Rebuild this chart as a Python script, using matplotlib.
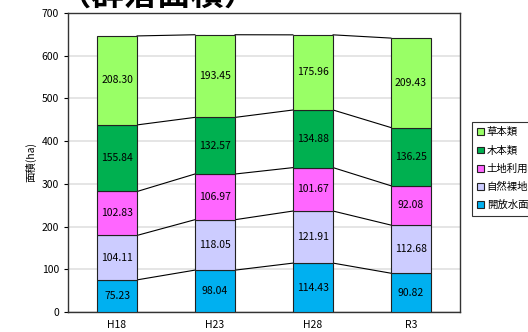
import matplotlib
matplotlib.use("Agg")
import matplotlib.pyplot as plt
import numpy as np

plt.rcParams['font.family'] = ['Noto Sans CJK JP', 'DejaVu Sans']

# data
categories = ['H18', 'H23', 'H28', 'R3']
series_names = ['開放水面', '自然裸地', '土地利用地', '木本類', '草本類']
open_water = [75.23, 98.04, 114.43, 90.82]
bare_land = [104.11, 118.05, 121.91, 112.68]
land_use = [102.83, 106.97, 101.67, 92.08]
woody = [155.84, 132.57, 134.88, 136.25]
herbs = [208.30, 193.45, 175.96, 209.43]
colors = ['#00B0F0', '#CCCCFF', '#FF66FF', '#00B050', '#99FF66']

values = [open_water, bare_land, land_use, woody, herbs]

fig = plt.figure(figsize=(5.28, 3.32), dpi=100)
ax = fig.add_axes([68 / 528, 20 / 332, 392 / 528, 299 / 332])

x = np.arange(len(categories))
w = 0.41
bottom = np.zeros(len(categories))
handles = []
for name, vals, c in zip(series_names, values, colors):
    vals = np.array(vals)
    b = ax.bar(x, vals, w, bottom=bottom, color=c, edgecolor='#222222',
               linewidth=0.8, label=name, zorder=3)
    handles.append(b)
    for xi, v, bt in zip(x, vals, bottom):
        ax.text(xi, bt + v / 2, f'{v:.2f}', ha='center', va='center',
                fontsize=7.5, zorder=4)
    bottom = bottom + vals
    # series lines between bars
    for i in range(len(categories) - 1):
        ax.plot([x[i] + w / 2, x[i + 1] - w / 2], [bottom[i], bottom[i + 1]],
                color='black', linewidth=0.8, zorder=2)

ax.set_xlim(-0.5, 3.5)
ax.set_ylim(0, 700)
ax.set_yticks(range(0, 701, 100))
ax.set_xticks(x)
ax.set_xticklabels(categories)
ax.tick_params(axis='both', labelsize=7.5, length=3)
ax.tick_params(axis='x', length=0, pad=6)
ax.yaxis.grid(True, color='#E0E0E0', linewidth=1.2, zorder=0)
ax.set_axisbelow(True)
for s in ax.spines.values():
    s.set_color('#333333')
    s.set_linewidth(1.0)
ax.set_ylabel('面積(ha)', fontsize=7.5, labelpad=4)

fig.text(158 / 528, 1.014, '（群落面積）', ha='center', va='center',
         fontsize=24, fontweight='bold')

leg = ax.legend(handles[::-1], series_names[::-1], loc='upper left',
                bbox_to_anchor=(467 / 528, 215 / 332), bbox_transform=fig.transFigure,
                fontsize=7.5, frameon=True, fancybox=False, edgecolor='black',
                handlelength=0.6, handleheight=0.6, handletextpad=0.3,
                labelspacing=0.78, borderpad=0.5)
leg.get_frame().set_linewidth(0.8)

fig.savefig('out.png', dpi=100)
